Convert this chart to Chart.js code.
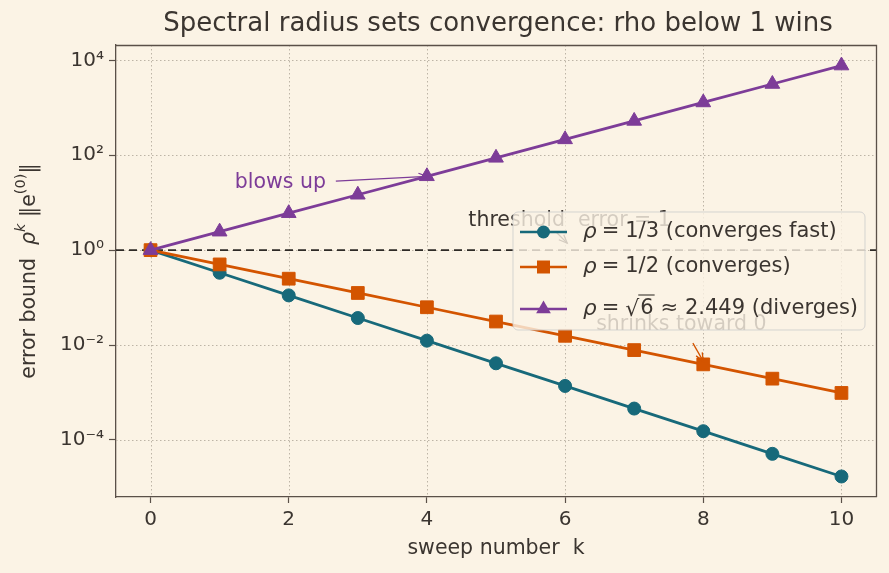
<!DOCTYPE html>
<html>
<head>
<meta charset="utf-8">
<script src="https://cdn.jsdelivr.net/npm/chart.js@4.4.1/dist/chart.umd.min.js"></script>
<style>
html,body{margin:0;padding:0;background:#FBF3E5;}
#wrap{width:889px;height:573px;position:relative;}
</style>
</head>
<body>
<div id="wrap"><canvas id="c" width="889" height="573"></canvas></div>
<script>
// ---- data ----
const sweeps = [0,1,2,3,4,5,6,7,8,9,10];
const rhoThird = [1, 0.3333, 0.1111, 0.03704, 0.012346, 0.004115, 0.0013717, 0.00045725, 0.00015242, 0.000050805, 0.000016935];
const rhoHalf = [1, 0.5, 0.25, 0.125, 0.0625, 0.03125, 0.015625, 0.0078125, 0.00390625, 0.0019531, 0.00097656];
const rhoSqrt6 = [1, 2.449, 6, 14.70, 36, 88.18, 216, 529.1, 1296, 3174.5, 7776];
const threshold = 1;
const xTicks = [0,2,4,6,8,10];
const yTicks = [1e-4, 1e-2, 1, 1e2, 1e4];
const yTickLabels = ['10\u207B\u2074','10\u207B\u00B2','10\u2070','10\u00B2','10\u2074'];
const seriesNames = ['(converges fast)', '(converges)', '(diverges)'];

const BG = '#FBF3E5', TXT = '#3b3530', SPINE = '#5a5048';
const TEAL = '#17697A', ORANGE = '#D35400', PURPLE = '#7D3C98';
const FONT = '"DejaVu Sans", sans-serif';

const pts = arr => sweeps.map((k,i)=>({x:k, y:arr[i]}));

function drawMarker(ctx, style, x, y, color){
  ctx.save();
  ctx.fillStyle = color;
  ctx.beginPath();
  if(style==='circle'){ ctx.arc(x,y,6.5,0,Math.PI*2); }
  else if(style==='rect'){ ctx.rect(x-6.5,y-6.5,13,13); }
  else { const r=8.5; ctx.moveTo(x,y-r); ctx.lineTo(x+r*0.866,y+r*0.5); ctx.lineTo(x-r*0.866,y+r*0.5); ctx.closePath(); }
  ctx.fill();
  ctx.restore();
}

function arrow(ctx, x1,y1,x2,y2,color){
  ctx.save();
  ctx.strokeStyle=color; ctx.lineWidth=1.3;
  ctx.beginPath(); ctx.moveTo(x1,y1); ctx.lineTo(x2,y2); ctx.stroke();
  const a=Math.atan2(y2-y1,x2-x1), L=9, w=0.4;
  ctx.beginPath();
  ctx.moveTo(x2-L*Math.cos(a-w), y2-L*Math.sin(a-w));
  ctx.lineTo(x2,y2);
  ctx.lineTo(x2-L*Math.cos(a+w), y2-L*Math.sin(a+w));
  ctx.stroke();
  ctx.restore();
}

const decor = {
  id:'decor',
  beforeDraw(chart){
    const ctx=chart.ctx; ctx.save(); ctx.fillStyle=BG; ctx.fillRect(0,0,chart.width,chart.height); ctx.restore();
  },
  beforeDatasetsDraw(chart){
    const ctx=chart.ctx, a=chart.chartArea, xs=chart.scales.x, ys=chart.scales.y;
    ctx.save();
    ctx.strokeStyle='#bdb4a6'; ctx.lineWidth=1; ctx.setLineDash([1.5,2.5]);
    xTicks.forEach(v=>{const p=Math.round(xs.getPixelForValue(v))+0.5; ctx.beginPath(); ctx.moveTo(p,a.top); ctx.lineTo(p,a.bottom); ctx.stroke();});
    yTicks.forEach(v=>{const p=Math.round(ys.getPixelForValue(v))+0.5; ctx.beginPath(); ctx.moveTo(a.left,p); ctx.lineTo(a.right,p); ctx.stroke();});
    ctx.restore();
  },
  afterDatasetsDraw(chart){
    const ctx=chart.ctx, a=chart.chartArea, xs=chart.scales.x, ys=chart.scales.y;
    const X=v=>xs.getPixelForValue(v), Y=v=>ys.getPixelForValue(v);
    // annotations
    ctx.save();
    ctx.font='20.5px '+FONT; ctx.textBaseline='middle'; ctx.textAlign='left';
    ctx.fillStyle=PURPLE; ctx.fillText('blows up', X(1.22), Y(27));
    arrow(ctx, X(1.22)+101, Y(27)-1, X(4), Y(36), PURPLE);
    ctx.fillStyle=TXT; ctx.fillText('threshold  error = 1', X(4.6), Y(4.1));
    arrow(ctx, X(5.87), Y(4.1)+11, X(6.03), Y(threshold)-7, TXT);
    ctx.fillStyle=TXT; ctx.fillText('shrinks toward 0', X(6.45), Y(0.0263));
    arrow(ctx, X(7.85), Y(0.0263)+18, X(8), Y(rhoHalf[8])-3, ORANGE);
    ctx.restore();

    // legend
    ctx.save();
    const lx=513, ly=212, lw=352, lh=118, r=5;
    ctx.beginPath();
    ctx.moveTo(lx+r,ly); ctx.arcTo(lx+lw,ly,lx+lw,ly+lh,r); ctx.arcTo(lx+lw,ly+lh,lx,ly+lh,r);
    ctx.arcTo(lx,ly+lh,lx,ly,r); ctx.arcTo(lx,ly,lx+lw,ly,r); ctx.closePath();
    ctx.fillStyle='rgba(251,243,229,0.8)'; ctx.fill();
    ctx.strokeStyle='rgba(204,204,204,0.8)'; ctx.lineWidth=1; ctx.stroke();
    const rows=[
      {y:232, c:TEAL, m:'circle', val:'1/3', name:seriesNames[0]},
      {y:267, c:ORANGE, m:'rect', val:'1/2', name:seriesNames[1]},
      {y:309, c:PURPLE, m:'triangle', val:null, name:seriesNames[2]}
    ];
    ctx.textBaseline='middle';
    rows.forEach(rw=>{
      ctx.strokeStyle=rw.c; ctx.lineWidth=2.7; ctx.setLineDash([]);
      ctx.beginPath(); ctx.moveTo(520,rw.y); ctx.lineTo(567,rw.y); ctx.stroke();
      drawMarker(ctx, rw.m, 543.5, rw.y, rw.c);
      ctx.fillStyle=TXT;
      let x=583;
      ctx.font='italic 21.5px '+FONT; ctx.fillText('\u03C1', x, rw.y); x+=ctx.measureText('\u03C1').width+5;
      ctx.font='21px '+FONT; ctx.fillText('=', x, rw.y); x+=ctx.measureText('=').width+6;
      if(rw.val){
        ctx.fillText(rw.val+' '+rw.name, x, rw.y);
      } else {
        ctx.font='22px '+FONT; ctx.fillText('\u221A', x, rw.y+1); x+=ctx.measureText('\u221A').width;
        ctx.font='21px '+FONT;
        const w6=ctx.measureText('6').width;
        ctx.fillText('6', x+1, rw.y);
        ctx.lineWidth=1.1; ctx.strokeStyle=TXT; ctx.beginPath(); ctx.moveTo(x-1, rw.y-14); ctx.lineTo(x+w6+2, rw.y-14); ctx.stroke();
        x+=w6+8;
        ctx.fillText('\u2248 2.449 '+rw.name, x, rw.y);
      }
    });
    ctx.restore();
  },
  afterDraw(chart){
    const ctx=chart.ctx, a=chart.chartArea;
    ctx.save();
    // spines top/right
    ctx.strokeStyle=SPINE; ctx.lineWidth=1.3;
    ctx.beginPath(); ctx.moveTo(a.left,a.top+0.5); ctx.lineTo(a.right+0.5,a.top+0.5); ctx.lineTo(a.right+0.5,a.bottom); ctx.stroke();
    // title
    ctx.fillStyle=TXT; ctx.textAlign='center'; ctx.textBaseline='middle';
    ctx.font='26px '+FONT;
    ctx.fillText('Spectral radius sets convergence: rho below 1 wins', (a.left+a.right)/2+2, 24);
    // x title
    ctx.font='20.5px '+FONT;
    ctx.fillText('sweep number  k', (a.left+a.right)/2, 549);
    // y title (rotated, segments)
    ctx.translate(30, 271); ctx.rotate(-Math.PI/2);
    const segs=[
      {t:'error bound  ', f:'20.5px '+FONT, dy:0},
      {t:'\u03C1', f:'italic 20.5px '+FONT, dy:0},
      {t:'k', f:'italic 14.5px '+FONT, dy:-9},
      {t:' \u2016e', f:'20.5px '+FONT, dy:0},
      {t:'(0)', f:'14.5px '+FONT, dy:-9},
      {t:'\u2016', f:'20.5px '+FONT, dy:0}
    ];
    let tw=0; segs.forEach(s=>{ctx.font=s.f; tw+=ctx.measureText(s.t).width;});
    let x=-tw/2; ctx.textAlign='left';
    segs.forEach(s=>{ctx.font=s.f; ctx.fillText(s.t,x,s.dy); x+=ctx.measureText(s.t).width;});
    ctx.restore();
  }
};

const ds = (label, arr, color, style, radius, order)=>({
  label, data: pts(arr), borderColor: color, backgroundColor: color,
  borderWidth: 2.8, pointStyle: style, pointRadius: radius, pointBorderWidth: 1,
  pointHoverRadius: radius, tension: 0, order
});

new Chart(document.getElementById('c'), {
  type:'line',
  data:{ datasets:[
    ds('rho = 1/3', rhoThird, TEAL, 'circle', 6.5, 3),
    ds('rho = 1/2', rhoHalf, ORANGE, 'rect', 9, 2),
    ds('rho = sqrt6', rhoSqrt6, PURPLE, 'triangle', 8.5, 1),
    {label:'threshold', data:[{x:-0.5,y:threshold},{x:10.5,y:threshold}], borderColor:'#2e2a26', borderWidth:1.7,
     borderDash:[8,5], pointRadius:0, order:4}
  ]},
  options:{
    responsive:false, animation:false,
    layout:{padding:{top:45,right:13,left:0,bottom:0}},
    plugins:{legend:{display:false}, tooltip:{enabled:false}, title:{display:false}},
    scales:{
      x:{type:'linear', min:-0.5, max:10.5,
        afterBuildTicks: s=>{ s.ticks = xTicks.map(v=>({value:v})); },
        afterFit: s=>{ s.height=76; },
        grid:{color:'rgba(0,0,0,0)', tickColor:SPINE, tickLength:6, tickWidth:1.2, drawOnChartArea:false},
        border:{color:SPINE, width:1.3},
        ticks:{color:TXT, font:{family:'DejaVu Sans', size:20}, padding:5, maxRotation:0, callback:v=>String(v)}
      },
      y:{type:'logarithmic', min:Math.pow(10,-5.204), max:Math.pow(10,4.324),
        afterBuildTicks: s=>{ s.ticks = yTicks.map(v=>({value:v})); },
        afterFit: s=>{ s.width=116; },
        grid:{color:'rgba(0,0,0,0)', tickColor:SPINE, tickLength:7, tickWidth:1.2, drawOnChartArea:false},
        border:{color:SPINE, width:1.3},
        ticks:{color:TXT, font:{family:'DejaVu Sans', size:20}, padding:5,
          callback:(v)=>{ const i=yTicks.findIndex(t=>Math.abs(Math.log10(t)-Math.log10(v))<1e-6); return i>=0?yTickLabels[i]:''; }}
      }
    }
  },
  plugins:[decor]
});
</script>
</body>
</html>
